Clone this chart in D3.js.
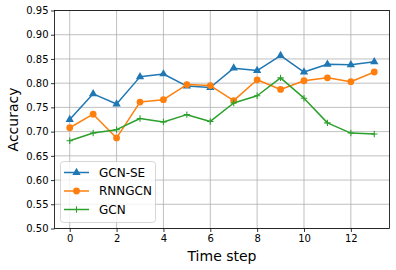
<!DOCTYPE html>
<html><head><meta charset="utf-8">
<script src="https://cdn.jsdelivr.net/npm/d3@7"></script>
<style>
body{margin:0;background:#fff;}
svg{display:block;font-family:"DejaVu Sans",sans-serif;}
</style></head>
<body><svg id="c" width="396" height="270"></svg>
<script>
const steps = [0,1,2,3,4,5,6,7,8,9,10,11,12,13];
const gcnSE  = [0.725,0.778,0.757,0.813,0.819,0.794,0.791,0.831,0.826,0.857,0.823,0.839,0.838,0.844];
const rnngcn = [0.708,0.736,0.687,0.761,0.766,0.797,0.795,0.764,0.807,0.787,0.805,0.811,0.803,0.823];
const gcn    = [0.681,0.697,0.704,0.727,0.720,0.735,0.721,0.759,0.774,0.811,0.769,0.718,0.697,0.695];
const xTicks = [0,2,4,6,8,10,12];
const yTicks = [0.50,0.55,0.60,0.65,0.70,0.75,0.80,0.85,0.90,0.95];
const seriesNames = ["GCN-SE","RNNGCN","GCN"];
const colors = ["#1f77b4","#ff7f0e","#2ca02c"];

const svg = d3.select("#c");
const L=54.5, R=389.5, T=10.5, B=228.5;
const x = d3.scaleLinear().domain([-0.65,13.65]).range([L,R]);
const y = d3.scaleLinear().domain([0.50,0.95]).range([B,T]);

// grid
const g = svg.append("g");
g.selectAll(".gx").data(xTicks).enter().append("line")
  .attr("x1",d=>x(d)).attr("x2",d=>x(d)).attr("y1",T).attr("y2",B)
  .attr("stroke","#b0b0b0").attr("stroke-width",0.8);
g.selectAll(".gy").data(yTicks).enter().append("line")
  .attr("y1",d=>y(d)).attr("y2",d=>y(d)).attr("x1",L).attr("x2",R)
  .attr("stroke","#b0b0b0").attr("stroke-width",0.8);

// axes
const xa = svg.append("g").attr("transform",`translate(0,${B})`)
  .call(d3.axisBottom(x).tickValues(xTicks).tickFormat(d3.format("d")).tickSize(3.5).tickSizeOuter(0));
const ya = svg.append("g").attr("transform",`translate(${L},0)`)
  .call(d3.axisLeft(y).tickValues(yTicks).tickFormat(d3.format(".2f")).tickSize(3.5).tickSizeOuter(0));
[xa,ya].forEach(a=>{
  a.select(".domain").remove();
  a.selectAll("text").attr("font-size",10).attr("font-family","DejaVu Sans").attr("fill","#000");
  a.selectAll("line").attr("stroke","#000").attr("stroke-width",0.8);
});
xa.selectAll("text").attr("dy","0.71em").attr("y",6);
ya.selectAll("text").attr("x",-6);

// lines & markers
const data = [gcnSE, rnngcn, gcn];
const line = d3.line().x((d,i)=>x(steps[i])).y(d=>y(d));
const tri = d3.symbol().type(d3.symbolTriangle).size(30);
function drawMarker(sel, k, cx, cy){
  if(k===0){
    sel.append("path").attr("d",tri()).attr("transform",`translate(${cx},${cy})`).attr("fill",colors[0]);
  } else if(k===1){
    sel.append("circle").attr("cx",cx).attr("cy",cy).attr("r",3.4).attr("fill",colors[1]);
  } else {
    sel.append("path").attr("d",`M${cx-3.2},${cy}H${cx+3.2}M${cx},${cy-3.2}V${cy+3.2}`)
      .attr("stroke",colors[2]).attr("stroke-width",1.1).attr("fill","none");
  }
}
data.forEach((vals,k)=>{
  svg.append("path").datum(vals).attr("d",line).attr("fill","none")
    .attr("stroke",colors[k]).attr("stroke-width",1.5).attr("stroke-linejoin","round");
  const mg = svg.append("g");
  vals.forEach((v,i)=>drawMarker(mg,k,x(steps[i]),y(v)));
});

// spines
svg.append("rect").attr("x",L).attr("y",T).attr("width",R-L).attr("height",B-T)
  .attr("fill","none").attr("stroke","#000").attr("stroke-width",0.8);

// axis labels
svg.append("text").attr("x",(L+R)/2).attr("y",261).attr("text-anchor","middle")
  .attr("font-size",14).attr("fill","#000").text("Time step");
svg.append("text").attr("transform",`translate(17.5,${(T+B)/2}) rotate(-90)`).attr("text-anchor","middle")
  .attr("font-size",14).attr("fill","#000").text("Accuracy");

// legend
const lg = svg.append("g");
lg.append("rect").attr("x",60.5).attr("y",161.5).attr("width",95).attr("height",61).attr("rx",3)
  .attr("fill","#fff").attr("fill-opacity",0.8).attr("stroke","#cccccc").attr("stroke-width",0.8);
const ly = [172.5,191,209.5];
seriesNames.forEach((n,k)=>{
  lg.append("line").attr("x1",64).attr("x2",89).attr("y1",ly[k]).attr("y2",ly[k])
    .attr("stroke",colors[k]).attr("stroke-width",1.5);
  drawMarker(lg,k,76.5,ly[k]);
  lg.append("text").attr("x",99).attr("y",ly[k]).attr("dy","0.36em").attr("font-size",12)
    .attr("fill","#000").text(n);
});
</script></body></html>
